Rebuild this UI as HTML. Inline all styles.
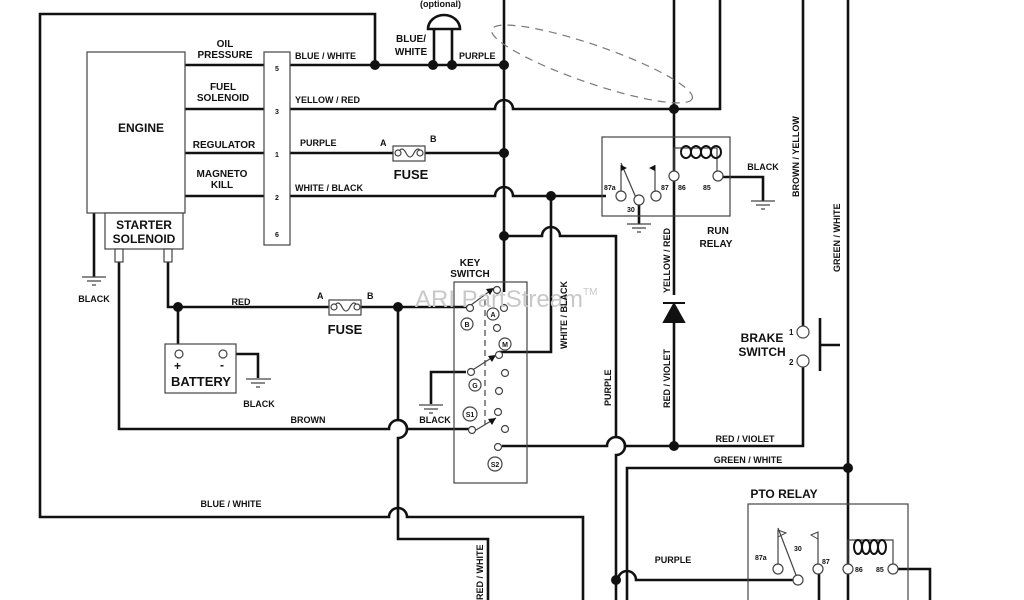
<!DOCTYPE html>
<html><head><meta charset="utf-8"><style>
html,body{margin:0;padding:0;background:#fff}
svg{display:block}
text{font-family:"Liberation Sans",Arial,sans-serif;font-weight:bold;fill:#111}
</style></head><body>
<svg width="1024" height="600" viewBox="0 0 1024 600" xmlns="http://www.w3.org/2000/svg">
<g fill="none" stroke="#111" stroke-width="2.6">
<path d="M375 65 V14 H40 V517 H389 a9 9 0 0 1 18 0 H583 V600"/>
<path d="M185 65 H264 M290 65 H504"/>
<path d="M185 109 H264 M290 109 H495 a9 9 0 0 1 18 0 H720 V0"/>
<path d="M674 0 V295"/>
<path d="M185 153 H264 M290 153 H393 M425 153 H504"/>
<path d="M185 196 H264 M290 196 H495 a9 9 0 0 1 18 0 H606"/>
<path d="M504 0 V292"/>
<path d="M504 236 H542 a9 9 0 0 1 18 0 H616 V437 a9 9 0 0 1 0 18 V600"/>
<path d="M551 196 V352 H499"/>
<path d="M168 262 V307 H329 M361 307 H469"/>
<path d="M178 307 V350"/>
<path d="M398 307 V420 a9 9 0 0 1 0 18 V539 H488 V600"/>
<path d="M119 262 V429 H389 a9 9 0 0 1 18 0 H469"/>
<path d="M94 213 V277"/>
<path d="M227 354 H258 V378"/>
<path d="M466 372 H431 V404"/>
<path d="M502 446 H607 a9 9 0 0 1 18 0 H803 V365"/>
<path d="M674 320 V446"/>
<path d="M803 0 V328"/>
<path d="M848 0 V600"/>
<path d="M820 318 V371 M820 345 H840"/>
<path d="M627 600 V468 H848"/>
<path d="M616 580 H618 a9 9 0 0 1 18 0 H794"/>
<path d="M897 569 H930 V600"/>
<path d="M819 574 V600"/>
<path d="M720 177 H763 V201"/>
<path d="M639 201 V224"/>
<path d="M434 28 V65 M452 28 V65"/>
</g>
<path d="M428 29 a16 14 0 0 1 32 0 Z" fill="none" stroke="#111" stroke-width="2.6"/>
<g fill="#fff" stroke="#444" stroke-width="1.2">
<rect x="87" y="52" width="98" height="161"/>
<rect x="105" y="213" width="78" height="36"/>
<rect x="115" y="249" width="8" height="13"/>
<rect x="164" y="249" width="8" height="13"/>
<rect x="264" y="52" width="26" height="193"/>
<rect x="165" y="344" width="71" height="49"/>
<rect x="602" y="137" width="128" height="79" fill="none"/>
<rect x="748" y="504" width="160" height="100" fill="none"/>
<rect x="454" y="282" width="73" height="201" fill="none"/>
<rect x="393" y="146" width="32" height="15"/>
<rect x="329" y="300" width="32" height="15"/>
</g>
<g fill="none" stroke="#444" stroke-width="1.2">
<path d="M398 153 q4 -8 8 0 q4 8 8 0 q4 -8 8 0"/>
<path d="M334 307 q4 -8 8 0 q4 8 8 0 q4 -8 8 0"/>
<path d="M485 300 V425" stroke-dasharray="6 4"/>
<ellipse cx="592" cy="64" rx="106" ry="19" transform="rotate(19 592 64)" stroke="#777" stroke-dasharray="8 6"/>
<path d="M82 277 H106 M87 281 H101 M92 285 H96"/>
<path d="M246 379 H271 M251 383 H265 M256 387 H260"/>
<path d="M419 405 H443 M424 409 H438 M429 413 H433"/>
<path d="M627 224 H651 M632 228 H646 M637 232 H641"/>
<path d="M751 201 H775 M756 205 H770 M761 209 H765"/>
<path d="M621 196 V165 M621 163 L637 200"/>
<path d="M655 195 V165"/>
<path d="M674 175 V148 H717 V175"/>
<path d="M778 568 V530 M778 528 L796 575 M818 565 V532 M848 568 V540 H893 V565"/>
<path d="M471 305 L494 288 M471 371 L496 355 M471 433 L496 418"/>
</g>
<g fill="none" stroke="#111" stroke-width="2">
<path d="M681 152 a5 6 0 1 1 0 .1 M691 152 a5 6 0 1 1 0 .1 M701 152 a5 6 0 1 1 0 .1 M711 152 a5 6 0 1 1 0 .1"/>
<ellipse cx="858" cy="547" rx="4" ry="7"/><ellipse cx="866" cy="547" rx="4" ry="7"/><ellipse cx="874" cy="547" rx="4" ry="7"/><ellipse cx="882" cy="547" rx="4" ry="7"/>
</g>
<path d="M621 165 l6 3 -6 3 z M655 165 l-6 3 6 3z" fill="#111"/>
<path d="M778 530 l8 3 -8 4z M818 532 l-7 3 7 4z" fill="none" stroke="#444"/>
<path d="M494 288 l-8 1 4 6z M496 355 l-8 1 4 6z M496 418 l-8 1 4 6z" fill="#111"/>
<path d="M663 303 H685 M674 304 L664 322 H684 Z" fill="#111" stroke="#111" stroke-width="2"/>
<g fill="#111">
<circle cx="375" cy="65" r="5"/><circle cx="433" cy="65" r="5"/><circle cx="452" cy="65" r="5"/><circle cx="504" cy="65" r="5"/>
<circle cx="674" cy="109" r="5"/><circle cx="504" cy="153" r="5"/><circle cx="551" cy="196" r="5"/><circle cx="504" cy="236" r="5"/>
<circle cx="178" cy="307" r="5"/><circle cx="398" cy="307" r="5"/><circle cx="674" cy="446" r="5"/><circle cx="848" cy="468" r="5"/><circle cx="616" cy="580" r="5"/>
</g>
<g fill="#fff" stroke="#444" stroke-width="1.2">
<circle cx="398" cy="153" r="3"/><circle cx="420" cy="153" r="3"/><circle cx="334" cy="307" r="3"/><circle cx="357" cy="307" r="3"/>
<circle cx="179" cy="354" r="4"/><circle cx="223" cy="354" r="4"/>
<circle cx="470" cy="308" r="3.5"/><circle cx="497" cy="290" r="3.5"/><circle cx="504" cy="308" r="3.5"/><circle cx="497" cy="328" r="3.5"/>
<circle cx="499" cy="355" r="3.5"/><circle cx="471" cy="372" r="3.5"/><circle cx="505" cy="373" r="3.5"/><circle cx="499" cy="391" r="3.5"/>
<circle cx="498" cy="412" r="3.5"/><circle cx="472" cy="430" r="3.5"/><circle cx="505" cy="429" r="3.5"/><circle cx="498" cy="447" r="3.5"/>
<circle cx="621" cy="196" r="5"/><circle cx="639" cy="200" r="5"/><circle cx="656" cy="196" r="5"/><circle cx="674" cy="176" r="5"/><circle cx="718" cy="176" r="5"/>
<circle cx="803" cy="332" r="6"/><circle cx="803" cy="361" r="6"/>
<circle cx="778" cy="569" r="5"/><circle cx="798" cy="580" r="5"/><circle cx="818" cy="569" r="5"/><circle cx="848" cy="569" r="5"/><circle cx="893" cy="569" r="5"/>
<circle cx="467" cy="324" r="6"/><circle cx="493" cy="314" r="6"/><circle cx="505" cy="344" r="6"/><circle cx="475" cy="385" r="6"/><circle cx="470" cy="414" r="7"/><circle cx="495" cy="464" r="7"/>
</g>
<g font-size="7" text-anchor="middle">
<text x="467" y="327">B</text><text x="493" y="317">A</text><text x="505" y="347">M</text><text x="475" y="388">G</text><text x="470" y="417">S1</text><text x="495" y="467">S2</text>
</g>
<text x="415" y="307" font-size="24" style="font-weight:normal;fill:#c8c8c8">ARI PartStream<tspan font-size="10" dy="-12">TM</tspan></text>
<g font-size="10" text-anchor="middle">
<text x="225" y="47">OIL</text><text x="225" y="58">PRESSURE</text>
<text x="223" y="90">FUEL</text><text x="223" y="101">SOLENOID</text>
<text x="224" y="148">REGULATOR</text>
<text x="222" y="177">MAGNETO</text><text x="222" y="188">KILL</text>
<text x="411" y="42">BLUE/</text><text x="411" y="55">WHITE</text>
<text x="94" y="302" font-size="9">BLACK</text>
<text x="259" y="407" font-size="9">BLACK</text>
<text x="435" y="423" font-size="9">BLACK</text>
<text x="308" y="423" font-size="9">BROWN</text>
<text x="231" y="507" font-size="9">BLUE / WHITE</text>
<text x="470" y="266">KEY</text><text x="470" y="277">SWITCH</text>
<text x="718" y="234">RUN</text><text x="716" y="247">RELAY</text>
<text x="763" y="170" font-size="9">BLACK</text>
<text x="762" y="342" font-size="12">BRAKE</text><text x="762" y="356" font-size="12">SWITCH</text>
<text x="241" y="305" font-size="9">RED</text>
<text x="745" y="442" font-size="9">RED / VIOLET</text>
<text x="748" y="463" font-size="9">GREEN / WHITE</text>
<text x="673" y="563" font-size="9">PURPLE</text>
<text x="141" y="132" font-size="12">ENGINE</text>
<text x="144" y="229" font-size="12">STARTER</text><text x="144" y="243" font-size="12">SOLENOID</text>
<text x="411" y="179" font-size="13">FUSE</text>
<text x="345" y="334" font-size="13">FUSE</text>
<text x="201" y="386" font-size="13">BATTERY</text>
<text x="784" y="498" font-size="12">PTO RELAY</text>
</g>
<g font-size="9">
<text x="295" y="59">BLUE / WHITE</text>
<text x="295" y="103">YELLOW / RED</text>
<text x="300" y="146">PURPLE</text>
<text x="295" y="191">WHITE / BLACK</text>
<text x="459" y="59">PURPLE</text>
<text x="420" y="7">(optional)</text>
<text x="380" y="146">A</text><text x="430" y="142">B</text>
<text x="317" y="299">A</text><text x="367" y="299">B</text>
<text x="174" y="370" font-size="12">+</text><text x="220" y="369" font-size="12">-</text>
<text x="275" y="71" font-size="7">5</text><text x="275" y="114" font-size="7">3</text><text x="275" y="157" font-size="7">1</text><text x="275" y="200" font-size="7">2</text><text x="275" y="237" font-size="7">6</text>
<text x="604" y="190" font-size="7">87a</text><text x="627" y="212" font-size="7">30</text><text x="661" y="190" font-size="7">87</text><text x="678" y="190" font-size="7">86</text><text x="703" y="190" font-size="7">85</text>
<text x="789" y="335" font-size="8">1</text><text x="789" y="365" font-size="8">2</text>
<text x="755" y="560" font-size="7">87a</text><text x="794" y="551" font-size="7">30</text><text x="822" y="564" font-size="7">87</text><text x="855" y="572" font-size="7">86</text><text x="876" y="572" font-size="7">85</text>
</g>
<g font-size="9">
<text transform="translate(567 349) rotate(-90)">WHITE / BLACK</text>
<text transform="translate(611 406) rotate(-90)">PURPLE</text>
<text transform="translate(670 408) rotate(-90)">RED / VIOLET</text>
<text transform="translate(670 293) rotate(-90)">YELLOW / RED</text>
<text transform="translate(799 197) rotate(-90)">BROWN / YELLOW</text>
<text transform="translate(840 272) rotate(-90)">GREEN / WHITE</text>
<text transform="translate(483 600) rotate(-90)">RED / WHITE</text>
</g>
</svg>
</body></html>
